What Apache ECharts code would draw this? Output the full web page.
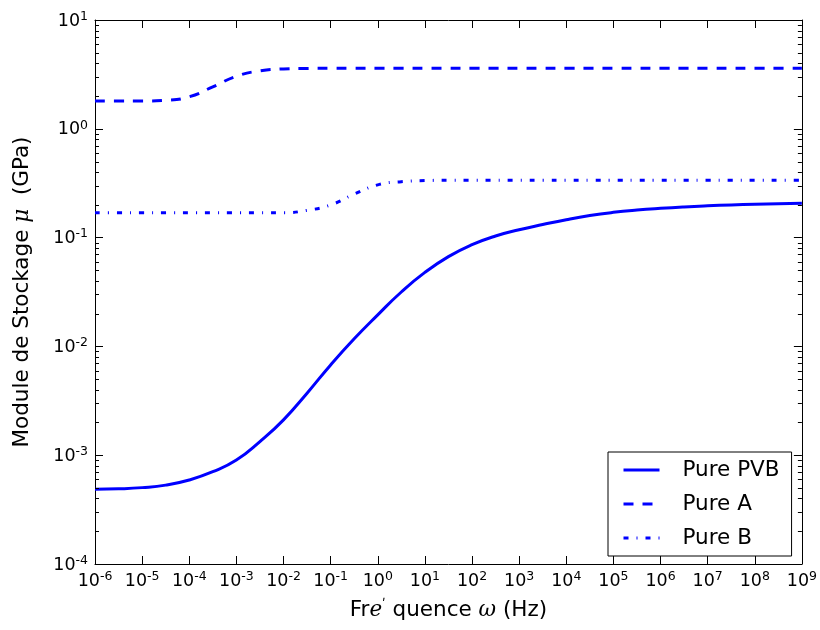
<!DOCTYPE html>
<html>
<head>
<meta charset="utf-8">
<script src="https://cdn.jsdelivr.net/npm/echarts@6/dist/echarts.min.js"></script>
<style>
html,body{margin:0;padding:0;background:#fff;}
#chart{width:820px;height:630px;}
</style>
</head>
<body>
<div id="chart"></div>
<script>
// ---- data ----
const frequency = [1e-6,3.16e-6,1e-5,3.16e-5,1e-4,3.16e-4,1e-3,3.16e-3,1e-2,3.16e-2,1e-1,3.16e-1,1,3.16,10,31.6,100,316,1e3,3.16e3,1e4,3.16e4,1e5,3.16e5,1e6,3.16e6,1e7,3.16e7,1e8,3.16e8,1e9];
const purePVB = [4.864e-4,4.909e-4,5.035e-4,5.309e-4,5.916e-4,7.047e-4,9.016e-4,1.334e-3,2.113e-3,3.715e-3,6.761e-3,0.01175,0.0195,0.03162,0.04786,0.06683,0.0861,0.1035,0.118,0.1318,0.1462,0.1596,0.1706,0.1791,0.1858,0.1914,0.1959,0.1995,0.2023,0.2046,0.2065];
const pureA = [1.80,1.80,1.80,1.83,1.97,2.43,3.04,3.41,3.55,3.59,3.60,3.60,3.60,3.60,3.60,3.60,3.60,3.60,3.60,3.60,3.60,3.60,3.60,3.60,3.60,3.60,3.60,3.60,3.60,3.60,3.60];
const pureB = [0.1695,0.1695,0.1695,0.1695,0.1695,0.1695,0.1695,0.1695,0.1695,0.178,0.1995,0.251,0.3055,0.3265,0.334,0.3366,0.3366,0.3366,0.3366,0.3366,0.3366,0.3366,0.3366,0.3366,0.3366,0.3366,0.3366,0.3366,0.3366,0.3366,0.3366];
const seriesNames = ['Pure PVB','Pure A','Pure B'];
const xRange = [1e-6, 1e9];
const yRange = [1e-4, 1e1];
const yMinorMantissas = [2,3,4,5,6,7,8,9];

const FONT = 'DejaVu Sans';
const SERIF = 'DejaVu Serif';

function pairs(ys){ return frequency.map((f,i)=>[f, ys[i]]); }

const yMinor = [];
for (let e = Math.log10(yRange[0]); e < Math.log10(yRange[1]); e++) {
  yMinorMantissas.forEach(m => yMinor.push([xRange[0], m * Math.pow(10, e)]));
}

function powLabel(v){
  const e = Math.round(Math.log10(v));
  return '{b|10}{s|' + e + '}';
}
const labelRich = {
  b: {fontFamily: FONT, fontSize: 17.5, color: '#000', lineHeight: 20, verticalAlign: 'bottom'},
  s: {fontFamily: FONT, fontSize: 12.5, color: '#000', lineHeight: 20, verticalAlign: 'top', padding: [0,0,7,0]}
};

const axisCommonX = {
  type: 'log', logBase: 10, min: xRange[0], max: xRange[1], interval: 1,
  axisLine: {show: true, onZero: false, lineStyle: {color: '#000', width: 1}},
  axisTick: {show: true, inside: true, length: 8, lineStyle: {color: '#000'}},
  splitLine: {show: false}, minorTick: {show: false}
};
const axisCommonY = {
  type: 'log', logBase: 10, min: yRange[0], max: yRange[1], interval: 1,
  axisLine: {show: true, onZero: false, lineStyle: {color: '#000', width: 1}},
  axisTick: {show: true, inside: true, length: 8, lineStyle: {color: '#000'}},
  splitLine: {show: false}, minorTick: {show: false}
};

const chart = echarts.init(document.getElementById('chart'), null, {renderer: 'canvas'});
chart.setOption({
  animation: false,
  backgroundColor: '#fff',
  grid: {left: 95, right: 17, top: 20, bottom: 66, containLabel: false},
  xAxis: [
    Object.assign({}, axisCommonX, {
      position: 'bottom',
      axisLabel: {show: true, interval: 0, margin: 6, formatter: powLabel, rich: labelRich, showMinLabel: true, showMaxLabel: true},
      name: '{n|Fr}{i|e}{a|\u02b9}{n| quence }{i|\u03c9}{n| (Hz)}',
      nameLocation: 'middle', nameGap: 34,
      nameTextStyle: {rich: {
        n: {fontFamily: FONT, fontSize: 21.5, color: '#000'},
        i: {fontFamily: SERIF, fontStyle: 'italic', fontSize: 21.5, color: '#000'},
        a: {fontFamily: SERIF, fontSize: 13, color: '#000', verticalAlign: 'top', lineHeight: 24}
      }}
    }),
    Object.assign({}, axisCommonX, {position: 'top', axisLabel: {show: false}})
  ],
  yAxis: [
    Object.assign({}, axisCommonY, {
      position: 'left',
      axisLabel: {show: true, interval: 0, margin: 7, formatter: powLabel, rich: labelRich, showMinLabel: true, showMaxLabel: true},
      name: '{n|Module de Stockage }{i|\u03bc}{n|  (GPa)}',
      nameLocation: 'middle', nameGap: 62, nameRotate: 90,
      nameTextStyle: {rich: {
        n: {fontFamily: FONT, fontSize: 21.5, color: '#000'},
        i: {fontFamily: SERIF, fontStyle: 'italic', fontSize: 21.5, color: '#000'}
      }}
    }),
    Object.assign({}, axisCommonY, {position: 'right', axisLabel: {show: false}})
  ],
  legend: {
    data: seriesNames,
    orient: 'vertical',
    left: 608, top: 452,
    padding: [7, 12, 7, 14],
    itemWidth: 36, itemHeight: 14, itemGap: 12,
    borderColor: '#000', borderWidth: 1, borderRadius: 0,
    backgroundColor: '#fff',
    itemStyle: {opacity: 0},
    lineStyle: {width: 3},
    textStyle: {fontFamily: FONT, fontSize: 21.5, color: '#000', padding: [0,0,0,18]}
  },
  series: [
    {name: seriesNames[0], type: 'line', data: pairs(purePVB), showSymbol: false, symbol: 'none', smooth: 0.5,
     lineStyle: {color: '#0000ff', width: 3, type: 'solid', cap: 'butt'}, itemStyle: {color: '#0000ff'}},
    {name: seriesNames[1], type: 'line', data: pairs(pureA), showSymbol: false, symbol: 'none', smooth: 0.5,
     lineStyle: {color: '#0000ff', width: 3, type: [10, 9], cap: 'butt'}, itemStyle: {color: '#0000ff'}},
    {name: seriesNames[2], type: 'line', data: pairs(pureB), showSymbol: false, symbol: 'none', smooth: 0.5,
     lineStyle: {color: '#0000ff', width: 3, type: [5, 8, 1, 8], cap: 'butt'}, itemStyle: {color: '#0000ff'}},
    {type: 'custom', data: yMinor, silent: true, clip: false, z: 5,
     renderItem: function(params, api){
       const p = api.coord([api.value(0), api.value(1)]);
       const cs = params.coordSys;
       const y = Math.round(p[1]) + 0.5;
       return {type: 'group', children: [
         {type: 'line', shape: {x1: cs.x, y1: y, x2: cs.x + 4, y2: y}, style: {stroke: '#000', lineWidth: 1}},
         {type: 'line', shape: {x1: cs.x + cs.width - 4, y1: y, x2: cs.x + cs.width, y2: y}, style: {stroke: '#000', lineWidth: 1}}
       ]};
     }}
  ]
});
</script>
</body>
</html>
